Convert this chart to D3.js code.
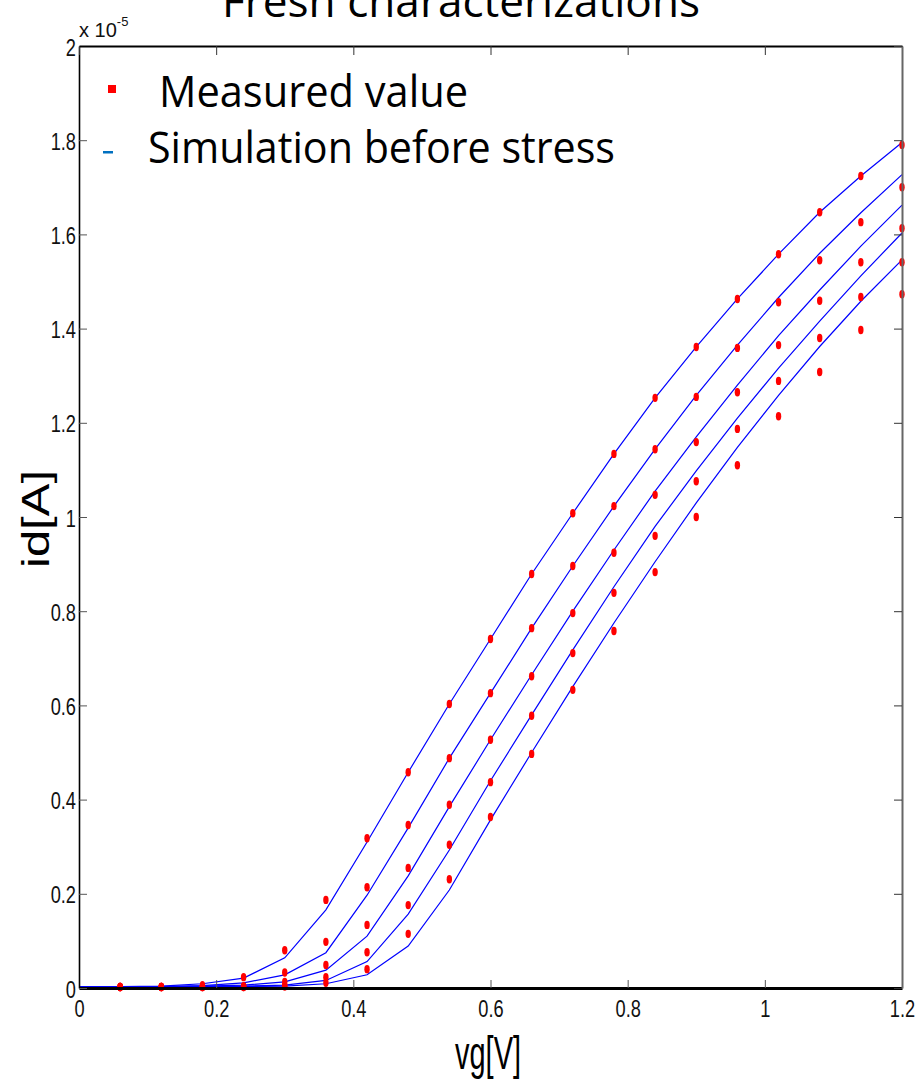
<!DOCTYPE html>
<html>
<head>
<meta charset="utf-8">
<script src="https://cdn.jsdelivr.net/npm/d3@7"></script>
<style>
  body { margin: 0; background: #fff; }
  svg { display: block; }
</style>
</head>
<body>
<div id="chart"></div>
<script>
// gate voltage steps (V)
const vgSim = [0, 0.06, 0.12, 0.18, 0.24, 0.30, 0.36, 0.42, 0.48, 0.54, 0.60, 0.66, 0.72, 0.78, 0.84, 0.90, 0.96, 1.02, 1.08, 1.14, 1.20]
const vgMeas = vgSim.slice(1)

// measured id, in units of 1e-5 A
const meas1 = [0.002,0.002,0.006,0.023,0.08,0.187,0.318,0.458,0.603,0.741,0.879,1.008,1.134,1.253,1.361,1.463,1.558,1.647,1.724,1.79]
const meas2 = [0.002,0.002,0.003,0.004,0.033,0.098,0.214,0.346,0.488,0.626,0.764,0.896,1.023,1.144,1.255,1.359,1.456,1.545,1.626,1.70]
const meas3 = [0.002,0.002,0.002,0.003,0.013,0.049,0.134,0.255,0.389,0.527,0.662,0.796,0.924,1.047,1.159,1.265,1.365,1.459,1.541,1.613]
const meas4 = [0.002,0.002,0.002,0.002,0.005,0.023,0.076,0.176,0.304,0.437,0.578,0.711,0.839,0.96,1.076,1.187,1.289,1.38,1.467,1.541]
const meas5 = [0.002,0.002,0.002,0.002,0.003,0.011,0.04,0.115,0.231,0.363,0.497,0.633,0.758,0.883,1.0,1.11,1.214,1.308,1.397,1.473]

// simulation before stress, same units
const sim1 = [0.003,0.003,0.004,0.009,0.021,0.064,0.166,0.31,0.458,0.603,0.741,0.879,1.008,1.134,1.253,1.361,1.463,1.558,1.647,1.724,1.795]
const sim2 = [0.003,0.003,0.003,0.005,0.011,0.028,0.075,0.197,0.34,0.488,0.626,0.764,0.896,1.023,1.144,1.258,1.365,1.466,1.56,1.646,1.727]
const sim3 = [0.003,0.003,0.003,0.004,0.006,0.013,0.038,0.11,0.238,0.385,0.527,0.665,0.80,0.93,1.055,1.17,1.28,1.385,1.482,1.575,1.662]
const sim4 = [0.003,0.003,0.003,0.003,0.004,0.006,0.016,0.056,0.157,0.293,0.44,0.58,0.718,0.852,0.98,1.098,1.21,1.316,1.416,1.512,1.603]
const sim5 = [0.003,0.003,0.003,0.003,0.003,0.004,0.009,0.028,0.089,0.208,0.357,0.5,0.64,0.775,0.905,1.03,1.148,1.258,1.362,1.458,1.546]

const xTicks = [0, 0.2, 0.4, 0.6, 0.8, 1, 1.2]
const yTicks = [0, 0.2, 0.4, 0.6, 0.8, 1, 1.2, 1.4, 1.6, 1.8, 2]
const legendLabels = ['Measured value', 'Simulation before stress']

const measured = [meas1, meas2, meas3, meas4, meas5]
const simulated = [sim1, sim2, sim3, sim4, sim5]

const W = 916, H = 1080
const m = { left: 79, right: 902, top: 46, bottom: 988 }

const svg = d3.select('#chart').append('svg')
    .attr('width', W)
    .attr('height', H)

const x = d3.scaleLinear().domain([0, 1.2]).range([m.left, m.right])
const y = d3.scaleLinear().domain([0, 2]).range([m.bottom, m.top])

// title, cut off by the top of the picture (as in the original)
svg.append('text')
    .attr('x', 222).attr('y', 17)
    .attr('font-family', 'Open Sans, sans-serif')
    .attr('font-size', 44)
    .attr('textLength', 478)
    .attr('lengthAdjust', 'spacingAndGlyphs')
    .text('Fresh characterizations')

// simulation lines
const line = d3.line()
    .x((d, i) => x(vgSim[i]))
    .y(d => y(d))

svg.append('g').selectAll('path')
    .data(simulated)
    .join('path')
    .attr('d', line)
    .attr('fill', 'none')
    .attr('stroke', '#0000ff')
    .attr('stroke-width', 1.2)

// measured points
measured.forEach(function(series) {
    svg.append('g').selectAll('ellipse')
        .data(series)
        .join('ellipse')
        .attr('cx', (d, i) => x(vgMeas[i]))
        .attr('cy', d => y(d))
        .attr('rx', 2.7)
        .attr('ry', 4.2)
        .attr('fill', '#ff0000')
});

// axes, ticks point inward like matlab
const tickFont = 'Liberation Sans Narrow, Arial Narrow, sans-serif'
const sx = 0.76

const xAxis = svg.append('g')
    .attr('transform', 'translate(0,' + m.bottom + ')')
    .call(d3.axisBottom(x).tickValues(xTicks).tickSize(-8).tickSizeOuter(0).tickFormat(d3.format('')))
xAxis.select('.domain').attr('stroke', '#000').attr('stroke-width', 3)
xAxis.selectAll('.tick line').attr('stroke', '#555')
xAxis.selectAll('text')
    .attr('y', 29)
    .attr('dy', 0)
    .attr('x', 0)
    .attr('font-family', tickFont)
    .attr('font-size', 24)
    .attr('fill', '#111')
    .attr('transform', 'scale(' + sx + ',1)')

const yAxis = svg.append('g')
    .attr('transform', 'translate(' + m.left + ',0)')
    .call(d3.axisLeft(y).tickValues(yTicks).tickSize(-8).tickSizeOuter(0).tickFormat(d3.format('')))
yAxis.select('.domain').attr('stroke', '#000').attr('stroke-width', 1.6)
yAxis.selectAll('.tick line').attr('stroke', '#555')
yAxis.selectAll('text')
    .attr('x', -3 / sx)
    .attr('dy', '0.38em')
    .attr('font-family', tickFont)
    .attr('font-size', 24)
    .attr('fill', '#111')
    .attr('transform', 'scale(' + sx + ',1)')

// top and right frame
const topAxis = svg.append('g')
    .attr('transform', 'translate(0,' + m.top + ')')
    .call(d3.axisTop(x).tickValues(xTicks).tickSize(-9).tickSizeOuter(0).tickFormat(''))
topAxis.select('.domain').attr('stroke', '#000').attr('stroke-width', 2)
topAxis.selectAll('.tick line').attr('stroke', '#333')

const rightAxis = svg.append('g')
    .attr('transform', 'translate(' + m.right + ',0)')
    .call(d3.axisRight(y).tickValues(yTicks).tickSize(-8).tickSizeOuter(0).tickFormat(''))
rightAxis.select('.domain').attr('stroke', '#666').attr('stroke-width', 2)
rightAxis.selectAll('.tick line').attr('stroke', '#333')

// exponent label
const expo = svg.append('text')
    .attr('x', 79).attr('y', 37)
    .attr('font-family', tickFont)
    .attr('font-size', 20)
    .attr('fill', '#111')
expo.append('tspan').text('x 10')
expo.append('tspan').attr('dy', -11).attr('font-size', 13).text('-5')

// axis titles
svg.append('text')
    .attr('x', 488).attr('y', 1069)
    .attr('text-anchor', 'middle')
    .attr('font-family', tickFont)
    .attr('font-size', 46)
    .attr('textLength', 66)
    .attr('lengthAdjust', 'spacingAndGlyphs')
    .text('vg[V]')

svg.append('text')
    .attr('transform', 'translate(49,519) rotate(-90)')
    .attr('text-anchor', 'middle')
    .attr('font-family', 'Liberation Sans, Arial, sans-serif')
    .attr('font-size', 38)
    .attr('textLength', 98)
    .attr('lengthAdjust', 'spacingAndGlyphs')
    .text('id[A]')

// legend
const legend = svg.append('g')
legend.append('rect')
    .attr('x', 108).attr('y', 85)
    .attr('width', 8).attr('height', 8)
    .attr('fill', '#ff0000')
legend.append('rect')
    .attr('x', 103).attr('y', 151)
    .attr('width', 10).attr('height', 2.5)
    .attr('fill', '#0070c0')
legend.append('text')
    .attr('x', 159).attr('y', 107)
    .attr('font-family', 'Open Sans, sans-serif')
    .attr('font-size', 44)
    .attr('textLength', 309)
    .attr('lengthAdjust', 'spacingAndGlyphs')
    .text(legendLabels[0])
legend.append('text')
    .attr('x', 148).attr('y', 163)
    .attr('font-family', 'Open Sans, sans-serif')
    .attr('font-size', 43)
    .attr('textLength', 467)
    .attr('lengthAdjust', 'spacingAndGlyphs')
    .text(legendLabels[1])
</script>
</body>
</html>
